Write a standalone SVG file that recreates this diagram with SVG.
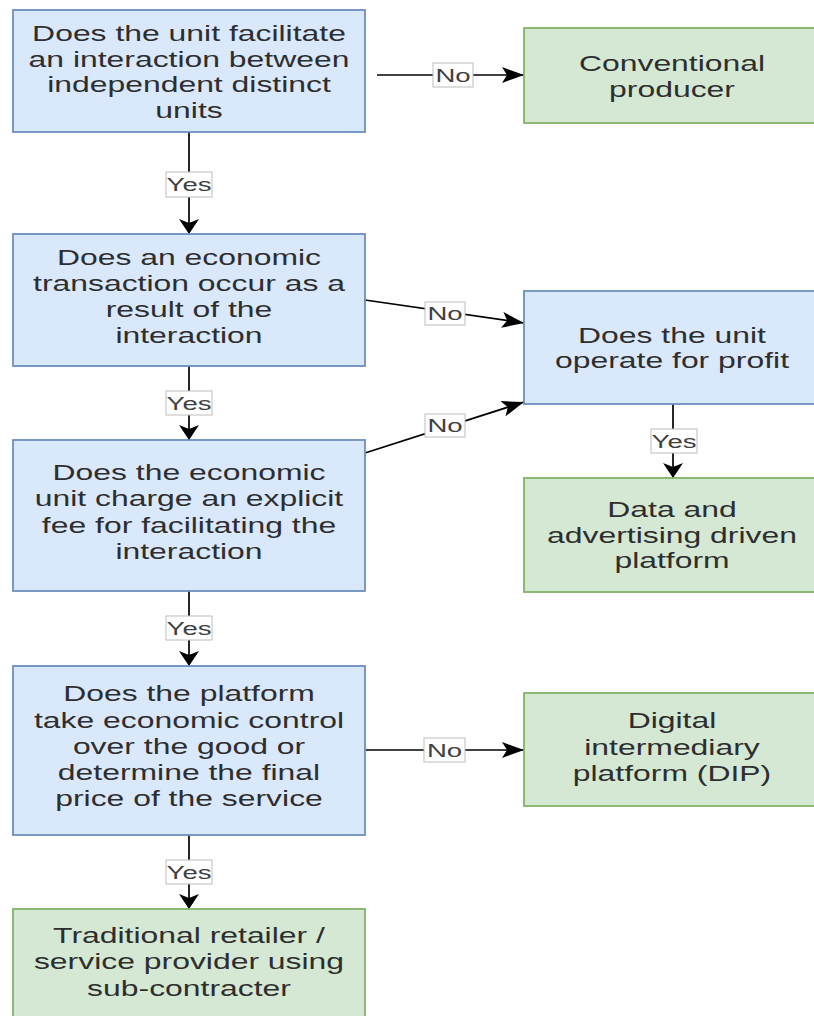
<svg xmlns="http://www.w3.org/2000/svg" width="814" height="1016" viewBox="0 0 814 1016">
<style>
.q{fill:#dae8fc;stroke:#6c8ebf;stroke-width:1.8}
.r{fill:#d5e8d4;stroke:#82b366;stroke-width:1.8}
.t{font-family:"Liberation Sans",Arial,sans-serif;font-size:22px;fill:#2e2e2e;text-anchor:middle}
.e{stroke:#000;stroke-width:1.7;fill:none}
.lb{fill:#fff;stroke:#bdbdbd;stroke-width:1}
.lt{font-family:"Liberation Sans",Arial,sans-serif;font-size:19px;fill:#404040;text-anchor:middle}
</style>
<defs>
<marker id="ah" markerUnits="userSpaceOnUse" markerWidth="22" markerHeight="16" refX="22" refY="8" orient="auto"><path d="M0,0 L22,8 L0,16 L5,8 z" fill="#000"/></marker>
<marker id="av" markerUnits="userSpaceOnUse" markerWidth="15" markerHeight="20" refX="15" refY="10" orient="auto"><path d="M0,0 L15,10 L0,20 L4,10 z" fill="#000"/></marker>
</defs>
<rect width="814" height="1016" fill="#fff"/>
<g id="connectors">
<line class="e" x1="377" y1="75" x2="524" y2="75" marker-end="url(#ah)"/>
<rect class="lb" x="433" y="63" width="40" height="24"/><text class="lt" transform="translate(453,0) scale(1.45,1)" x="0" y="82">No</text>
<line class="e" x1="189" y1="132" x2="189" y2="234" marker-end="url(#av)"/>
<rect class="lb" x="166" y="172" width="46" height="25"/><text class="lt" transform="translate(189,0) scale(1.45,1)" x="0" y="191.5">Yes</text>
<line class="e" x1="365" y1="300" x2="524" y2="323" marker-end="url(#ah)"/>
<rect class="lb" x="425" y="302" width="40" height="23"/><text class="lt" transform="translate(445,0) scale(1.45,1)" x="0" y="320.5">No</text>
<line class="e" x1="189" y1="366" x2="189" y2="440" marker-end="url(#av)"/>
<rect class="lb" x="166" y="391" width="46" height="24"/><text class="lt" transform="translate(189,0) scale(1.45,1)" x="0" y="410">Yes</text>
<line class="e" x1="365" y1="453" x2="524" y2="402" marker-end="url(#ah)"/>
<rect class="lb" x="425" y="414" width="40" height="23"/><text class="lt" transform="translate(445,0) scale(1.45,1)" x="0" y="432.5">No</text>
<line class="e" x1="673" y1="404" x2="673" y2="478" marker-end="url(#av)"/>
<rect class="lb" x="651" y="429" width="46" height="24"/><text class="lt" transform="translate(674,0) scale(1.45,1)" x="0" y="448">Yes</text>
<line class="e" x1="189" y1="591" x2="189" y2="666" marker-end="url(#av)"/>
<rect class="lb" x="166" y="616" width="46" height="24"/><text class="lt" transform="translate(189,0) scale(1.45,1)" x="0" y="635">Yes</text>
<line class="e" x1="365" y1="750" x2="524" y2="750" marker-end="url(#ah)"/>
<rect class="lb" x="424" y="738" width="41" height="24"/><text class="lt" transform="translate(444.5,0) scale(1.45,1)" x="0" y="757">No</text>
<line class="e" x1="189" y1="835" x2="189" y2="909" marker-end="url(#av)"/>
<rect class="lb" x="166" y="860" width="46" height="24"/><text class="lt" transform="translate(189,0) scale(1.45,1)" x="0" y="879">Yes</text>
</g>
<g id="n1"><rect class="q" x="13" y="10" width="352" height="122"/>
<text class="t" transform="translate(189,0) scale(1.45,1)"><tspan x="0" y="41.5">Does the unit facilitate</tspan><tspan x="0" y="67">an interaction between</tspan><tspan x="0" y="92.5">independent distinct</tspan><tspan x="0" y="118">units</tspan></text></g>
<g id="n2"><rect class="r" x="524" y="28" width="298" height="95"/>
<text class="t" transform="translate(672,0) scale(1.45,1)"><tspan x="0" y="71">Conventional</tspan><tspan x="0" y="97">producer</tspan></text></g>
<g id="n3"><rect class="q" x="13" y="234" width="352" height="132"/>
<text class="t" transform="translate(189,0) scale(1.45,1)"><tspan x="0" y="265">Does an economic</tspan><tspan x="0" y="291">transaction occur as a</tspan><tspan x="0" y="317">result of the</tspan><tspan x="0" y="343">interaction</tspan></text></g>
<g id="n4"><rect class="q" x="524" y="291" width="298" height="113"/>
<text class="t" transform="translate(672,0) scale(1.45,1)"><tspan x="0" y="343">Does the unit</tspan><tspan x="0" y="368.5">operate for profit</tspan></text></g>
<g id="n5"><rect class="q" x="13" y="440" width="352" height="151"/>
<text class="t" transform="translate(189,0) scale(1.45,1)"><tspan x="0" y="480">Does the economic</tspan><tspan x="0" y="506.5">unit charge an explicit</tspan><tspan x="0" y="533">fee for facilitating the</tspan><tspan x="0" y="559">interaction</tspan></text></g>
<g id="n6"><rect class="r" x="524" y="478" width="298" height="114"/>
<text class="t" transform="translate(672,0) scale(1.45,1)"><tspan x="0" y="517">Data and</tspan><tspan x="0" y="543">advertising driven</tspan><tspan x="0" y="568.5">platform</tspan></text></g>
<g id="n7"><rect class="q" x="13" y="666" width="352" height="169"/>
<text class="t" transform="translate(189,0) scale(1.45,1)"><tspan x="0" y="701.5">Does the platform</tspan><tspan x="0" y="727.7">take economic control</tspan><tspan x="0" y="754">over the good or</tspan><tspan x="0" y="780">determine the final</tspan><tspan x="0" y="806.5">price of the service</tspan></text></g>
<g id="n8"><rect class="r" x="524" y="693" width="298" height="113"/>
<text class="t" transform="translate(672,0) scale(1.45,1)"><tspan x="0" y="728.5">Digital</tspan><tspan x="0" y="755">intermediary</tspan><tspan x="0" y="781.5">platform (DIP)</tspan></text></g>
<g id="n9"><rect class="r" x="13" y="909" width="352" height="125"/>
<text class="t" transform="translate(189,0) scale(1.45,1)"><tspan x="0" y="943">Traditional retailer /</tspan><tspan x="0" y="969.5">service provider using</tspan><tspan x="0" y="996">sub-contracter</tspan></text></g>
</svg>
